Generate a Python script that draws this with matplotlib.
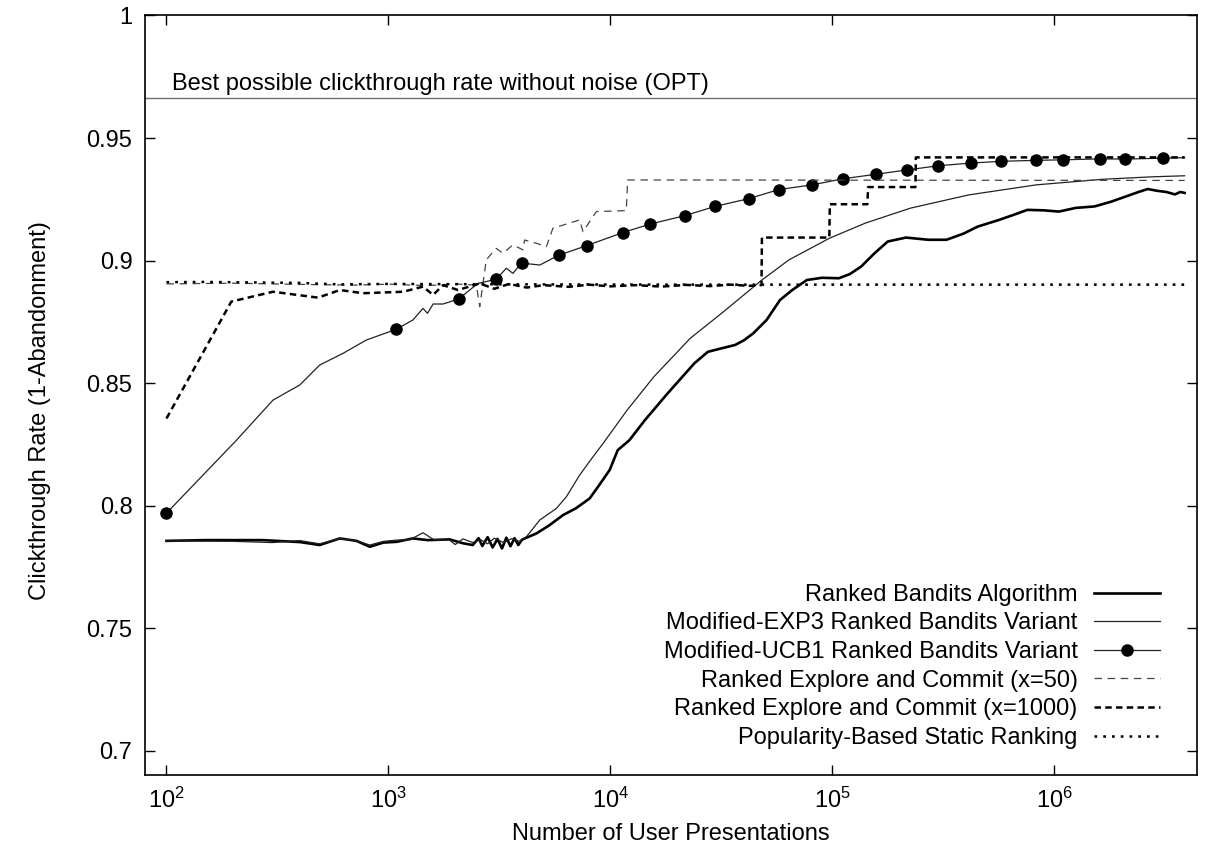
import numpy as np
import matplotlib
matplotlib.use("Agg")
import matplotlib.pyplot as plt
from matplotlib.ticker import NullLocator

plt.rcParams['font.family'] = ['Liberation Sans', 'DejaVu Sans']
plt.rcParams['mathtext.fontset'] = 'custom'
plt.rcParams['mathtext.rm'] = 'Liberation Sans'
plt.rcParams['mathtext.it'] = 'Liberation Sans:italic'
FS = 17

# ---- data ----
OPT = 0.9665

rba_x = [100, 150, 272, 400, 490, 604, 718, 824, 950, 1087, 1290, 1500, 1888, 2170, 2400,
         2550, 2650, 2800, 2950, 3100, 3250, 3400, 3550, 3700, 3850, 4000, 4640, 5300, 6120,
         7000, 8070, 9000, 9930, 10800, 12200, 14300, 18100, 23900, 27500, 31000, 36500,
         40000, 44000, 50600, 58100, 66000, 76900, 90000, 107000, 120000, 135000, 155000,
         178000, 215000, 271000, 327000, 390000, 453000, 560000, 658000, 757000, 900000,
         1050000, 1250000, 1520000, 1800000, 2110000, 2400000, 2640000, 2900000, 3200000,
         3500000, 3700000, 3870000]
rba_y = [0.7857, 0.7860, 0.7860, 0.7852, 0.7840, 0.7867, 0.7857, 0.7833, 0.7850, 0.7853,
         0.7867, 0.7860, 0.7863, 0.7847, 0.7840, 0.7868, 0.7836, 0.7872, 0.7830, 0.7865,
         0.7826, 0.7870, 0.7835, 0.7868, 0.7840, 0.7862, 0.7887, 0.7920, 0.7962, 0.7990,
         0.8030, 0.8090, 0.8146, 0.8227, 0.8268, 0.8349, 0.8458, 0.8581, 0.8628, 0.8640,
         0.8656, 0.8675, 0.8703, 0.8758, 0.8839, 0.8880, 0.8921, 0.8930, 0.8928, 0.8945,
         0.8976, 0.9030, 0.9078, 0.9094, 0.9085, 0.9085, 0.9110, 0.9139, 0.9165, 0.9187,
         0.9207, 0.9205, 0.9200, 0.9215, 0.9221, 0.9240, 0.9262, 0.9280, 0.9292, 0.9285,
         0.9280, 0.9270, 0.9280, 0.9276]

exp3_x = [100, 200, 300, 400, 490, 604, 718, 824, 950, 1087, 1250, 1432, 1600, 1888, 2000,
          2170, 2400, 2600, 2800, 3000, 3300, 3600, 3900, 4190, 4810, 5710, 6340, 7270, 8200,
          9270, 11900, 15700, 22900, 31700, 48200, 63800, 97000, 141000, 225000, 412000,
          830000, 1670000, 2800000, 3870000]
exp3_y = [0.7857, 0.7855, 0.7850, 0.7858, 0.7845, 0.7866, 0.7858, 0.7840, 0.7855, 0.7860,
          0.7862, 0.7890, 0.7862, 0.7860, 0.7842, 0.7865, 0.7850, 0.7862, 0.7845, 0.7868,
          0.7850, 0.7866, 0.7855, 0.7874, 0.7942, 0.7989, 0.8037, 0.8125, 0.8190, 0.8254,
          0.8390, 0.8526, 0.8683, 0.8785, 0.8921, 0.9003, 0.9091, 0.9153, 0.9214, 0.9268,
          0.9309, 0.9332, 0.9342, 0.9346]

ucb_x = [100, 207, 302, 399, 490, 625, 795, 1086, 1290, 1432, 1500, 1590, 1763, 2080, 2323,
         2535, 3060, 3400, 3640, 3980, 4810, 5850, 7820, 11350, 15100, 21800, 29600, 42200,
         57500, 81300, 112000, 157000, 218000, 301000, 423000, 577000, 824000, 1090000,
         1600000, 2090000, 3080000, 3870000]
ucb_y = [0.7970, 0.8268, 0.8431, 0.8493, 0.8574, 0.8622, 0.8676, 0.8720, 0.8758, 0.8805,
         0.8785, 0.8823, 0.8823, 0.8844, 0.8880, 0.8907, 0.8924, 0.8969, 0.8948, 0.8990,
         0.8982, 0.9022, 0.9061, 0.9114, 0.9149, 0.9184, 0.9221, 0.9253, 0.9290, 0.9309,
         0.9334, 0.9352, 0.9370, 0.9387, 0.9398, 0.9405, 0.9409, 0.9411, 0.9415, 0.9414,
         0.9418, 0.9420]
ucb_marker_x = [100, 1086, 2080, 3060, 3980, 5850, 7820, 11350, 15100, 21800, 29600, 42200,
                57500, 81300, 112000, 157000, 218000, 301000, 423000, 577000, 824000,
                1090000, 1600000, 2090000, 3080000]

ec50_x = [100, 200, 400, 700, 1000, 1500, 2000, 2490, 2580, 2760, 3060, 3280, 3640, 4040,
          4110, 4640, 5150, 5510, 7270, 7530, 8650, 11800, 11970, 3870000]
ec50_y = [0.8905, 0.8908, 0.8903, 0.8900, 0.8904, 0.8898, 0.8905, 0.8900, 0.8812, 0.9003,
          0.9050, 0.9030, 0.9064, 0.9044, 0.9084, 0.9071, 0.9057, 0.9132, 0.9166, 0.9118,
          0.9200, 0.9204, 0.9329, 0.9327]

ec1000_x = [100, 196, 302, 482, 604, 769, 1165, 1432, 1590, 1763, 2060, 2580, 3000, 3500,
            4200, 5000, 6500, 8000, 10000, 13000, 17000, 22000, 28000, 35000, 42000, 48000,
            48200, 97000, 97500, 144000, 145000, 237000, 238000, 3870000]
ec1000_y = [0.8356, 0.8833, 0.8873, 0.8849, 0.8880, 0.8867, 0.8873, 0.8894, 0.8860, 0.8900,
            0.8880, 0.8907, 0.8885, 0.8905, 0.8890, 0.8900, 0.8893, 0.8902, 0.8895, 0.8900,
            0.8894, 0.8901, 0.8896, 0.8902, 0.8897, 0.8900, 0.9094, 0.9094, 0.9230, 0.9230,
            0.9300, 0.9300, 0.9421, 0.9421]

pop_x = [100, 150, 250, 400, 600, 1000, 2000, 5000, 20000, 100000, 3870000]
pop_y = [0.8912, 0.8913, 0.8911, 0.8909, 0.8903, 0.8905, 0.8904, 0.8903, 0.8902, 0.8902, 0.8902]

labels = ["Ranked Bandits Algorithm",
          "Modified-EXP3 Ranked Bandits Variant",
          "Modified-UCB1 Ranked Bandits Variant",
          "Ranked Explore and Commit (x=50)",
          "Ranked Explore and Commit (x=1000)",
          "Popularity-Based Static Ranking"]
yticks = [0.7, 0.75, 0.8, 0.85, 0.9, 0.95, 1.0]
yticklabels = ["0.7", "0.75", "0.8", "0.85", "0.9", "0.95", "1"]
xticks = [1e2, 1e3, 1e4, 1e5, 1e6]

# ---- figure ----
fig = plt.figure(figsize=(12.14, 8.48), dpi=100)
ax = fig.add_axes([0.1194, 0.0855, 0.8666, 0.8963])

ax.axhline(OPT, color='#707070', lw=1.0, zorder=1)
ax.text(106, OPT + 0.003, "Best possible clickthrough rate without noise (OPT)",
        fontsize=FS, va='baseline', ha='left')

ax.plot(rba_x, rba_y, color='black', lw=1.9, label=labels[0])
ax.plot(exp3_x, exp3_y, color='#222222', lw=0.9, label=labels[1])
mk = [i for i, x in enumerate(ucb_x) if x in ucb_marker_x]
ax.plot(ucb_x, ucb_y, color='#222222', lw=0.9, marker='o', markersize=8,
        markerfacecolor='black', markeredgecolor='black', markevery=mk, label=labels[2])
ax.plot(ec50_x, ec50_y, color='#444444', lw=0.9, dashes=(6, 4.5), label=labels[3])
ax.plot(ec1000_x, ec1000_y, color='black', lw=1.8, dashes=(2.6, 1.7), label=labels[4])
ax.plot(pop_x, pop_y, color='black', lw=1.8, dashes=(1.1, 2.4), label=labels[5])

ax.set_xscale('log')
ax.set_xlim(80, 4.4e6)
ax.set_ylim(0.69, 1.0)
ax.set_xticks(xticks)
ax.xaxis.set_minor_locator(NullLocator())
ax.set_yticks(yticks)
ax.set_yticklabels(yticklabels)
ax.tick_params(which='both', direction='in', top=True, right=True, length=7, width=1.0,
               labelsize=FS, pad=9)
for s in ax.spines.values():
    s.set_linewidth(1.2)

ax.set_xlabel("Number of User Presentations", fontsize=FS)
ax.set_ylabel("Clickthrough Rate (1-Abandonment)", fontsize=FS)
ax.xaxis.set_label_coords(0.5, -0.063)
ax.yaxis.set_label_coords(-0.089, 0.48)

# gnuplot-style key: text right-aligned, sample on the right
leg = ax.legend(loc='lower right', bbox_to_anchor=(0.965, 0.035), frameon=False,
                markerfirst=False, fontsize=FS, handlelength=2.8, handletextpad=0.7,
                labelspacing=0.28, borderpad=0, borderaxespad=0)

fig.savefig("out.png", dpi=100)
